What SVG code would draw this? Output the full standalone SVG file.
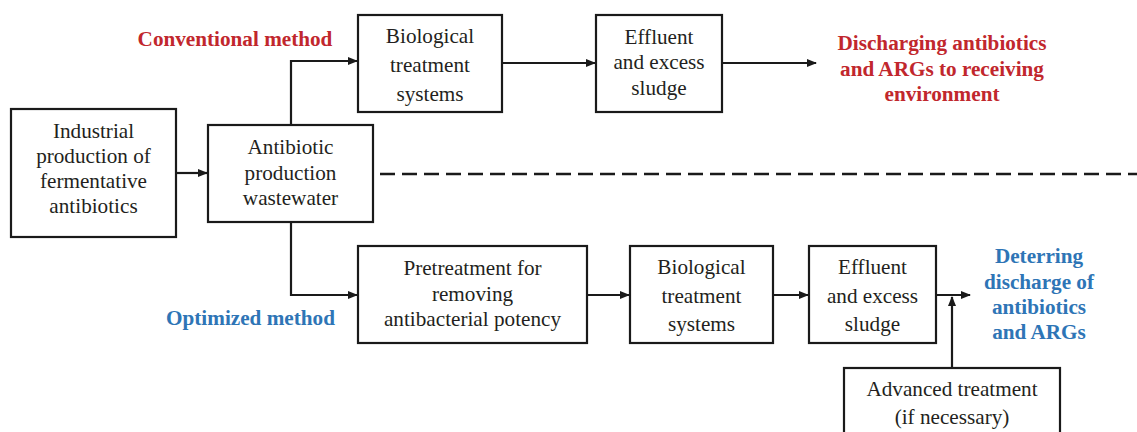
<svg xmlns="http://www.w3.org/2000/svg" width="1137" height="432" viewBox="0 0 1137 432">
<style>
.box{fill:#fff;stroke:#1a1a1a;stroke-width:2.2}
.t{font-family:"Liberation Serif","Times New Roman",serif;font-size:21.2px;fill:#231f20;text-anchor:middle}
.b{font-family:"Liberation Serif","Times New Roman",serif;font-size:21.2px;font-weight:bold;text-anchor:middle}
.red{fill:#c1272d}
.blue{fill:#2e75b6}
.c{fill:none;stroke:#1a1a1a;stroke-width:2.2}
</style>
<defs>
<marker id="ah" markerWidth="10" markerHeight="8" refX="9" refY="4" orient="auto" markerUnits="userSpaceOnUse">
<path d="M0,0 L10,4 L0,8 z" fill="#1a1a1a"/>
</marker>
</defs>
<rect width="1137" height="432" fill="#fff"/>
<g id="connectors">
<path class="c" d="M176,173 H207" marker-end="url(#ah)"/>
<path class="c" d="M291,125 V61 H357" marker-end="url(#ah)"/>
<path class="c" d="M502,63 H595" marker-end="url(#ah)"/>
<path class="c" d="M722,63 H816" marker-end="url(#ah)"/>
<path class="c" d="M291,222 V295 H357" marker-end="url(#ah)"/>
<path class="c" d="M587,295 H629" marker-end="url(#ah)"/>
<path class="c" d="M773,295 H808" marker-end="url(#ah)"/>
<path class="c" d="M936,295 H970" marker-end="url(#ah)"/>
<path class="c" d="M952,368 V297" marker-end="url(#ah)"/>
<path d="M380,174 H1137" fill="none" stroke="#1a1a1a" stroke-width="2.6" stroke-dasharray="15,7"/>
</g>
<g id="industrial">
<rect class="box" x="11" y="109" width="165" height="128"/>
<text class="t" x="93.5" y="138">Industrial</text>
<text class="t" x="93.5" y="163">production of</text>
<text class="t" x="93.5" y="188">fermentative</text>
<text class="t" x="93.5" y="213">antibiotics</text>
</g>
<g id="wastewater">
<rect class="box" x="208" y="125" width="165" height="97"/>
<text class="t" x="290.5" y="154">Antibiotic</text>
<text class="t" x="290.5" y="180">production</text>
<text class="t" x="290.5" y="205">wastewater</text>
</g>
<g id="bio-top">
<rect class="box" x="358" y="15" width="144" height="97"/>
<text class="t" x="430" y="43">Biological</text>
<text class="t" x="430" y="72">treatment</text>
<text class="t" x="430" y="101">systems</text>
</g>
<g id="effluent-top">
<rect class="box" x="596" y="15" width="126" height="97"/>
<text class="t" x="659" y="44">Effluent</text>
<text class="t" x="659" y="69">and excess</text>
<text class="t" x="659" y="95">sludge</text>
</g>
<g id="discharging">
<text class="b red" x="942" y="50">Discharging antibiotics</text>
<text class="b red" x="942" y="75.5">and ARGs to receiving</text>
<text class="b red" x="942" y="101">environment</text>
</g>
<g id="conventional">
<text class="b red" x="235" y="46">Conventional method</text>
</g>
<g id="optimized">
<text class="b blue" x="250.5" y="325">Optimized method</text>
</g>
<g id="pretreatment">
<rect class="box" x="358" y="246" width="229" height="97"/>
<text class="t" x="472.5" y="275">Pretreatment for</text>
<text class="t" x="472.5" y="301">removing</text>
<text class="t" x="472.5" y="326">antibacterial potency</text>
</g>
<g id="bio-bottom">
<rect class="box" x="630" y="246" width="143" height="97"/>
<text class="t" x="701.5" y="274">Biological</text>
<text class="t" x="701.5" y="303">treatment</text>
<text class="t" x="701.5" y="331">systems</text>
</g>
<g id="effluent-bottom">
<rect class="box" x="809" y="246" width="127" height="97"/>
<text class="t" x="872.5" y="274">Effluent</text>
<text class="t" x="872.5" y="303">and excess</text>
<text class="t" x="872.5" y="331">sludge</text>
</g>
<g id="deterring">
<text class="b blue" x="1039" y="263">Deterring</text>
<text class="b blue" x="1039" y="288.5">discharge of</text>
<text class="b blue" x="1039" y="314">antibiotics</text>
<text class="b blue" x="1039" y="339">and ARGs</text>
</g>
<g id="advanced">
<rect class="box" x="844" y="368" width="216" height="80"/>
<text class="t" x="952" y="396">Advanced treatment</text>
<text class="t" x="952" y="424">(if necessary)</text>
</g>
</svg>
